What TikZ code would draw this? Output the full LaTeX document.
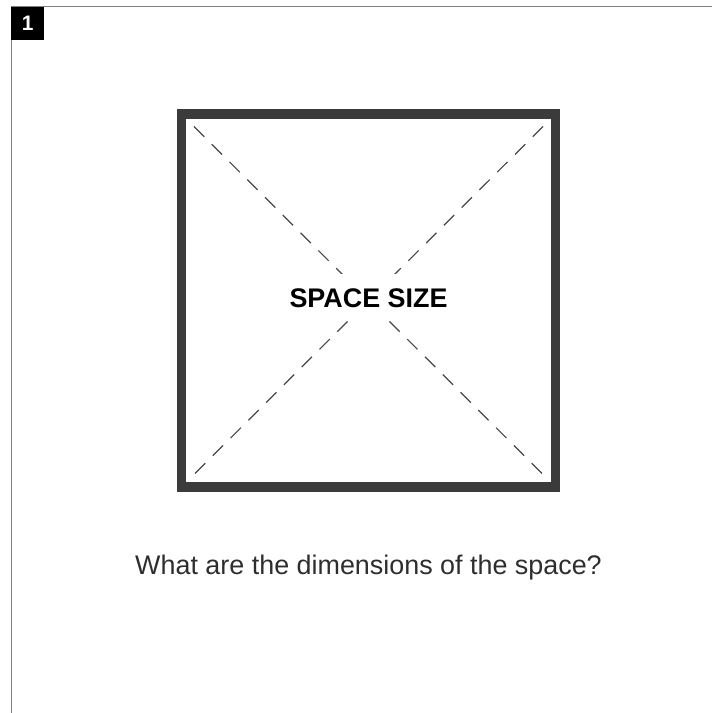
\documentclass[tikz,border=0pt]{standalone}
\usepackage{fontspec}
\setmainfont{Liberation Sans}
\usetikzlibrary{positioning}

\begin{document}
\begin{tikzpicture}[
    x=1bp, y=-1bp,
    frame/.style={draw=black!50, line width=1.3bp},
    badge/.style={
        fill=black,
        text=white,
        minimum size=33bp,
        inner sep=0pt,
        font=\bfseries\fontsize{21}{21}\selectfont
    },
    room/.style={
        draw=black!77,
        line width=9.5bp,
        minimum width=374bp,
        minimum height=373bp,
        inner sep=0pt,
        outer sep=0pt
    },
    diag/.style={draw=black!72, line width=1.2bp, dash pattern=on 14.5bp off 10.6bp},
    title/.style={fill=white, inner xsep=4bp, inner ysep=14bp, font=\bfseries\fontsize{27}{27}\selectfont},
    question/.style={text=black!82, font=\fontsize{27}{27}\selectfont}
]

\useasboundingbox (0,0) rectangle (712,713);

% Page frame and number
\draw[frame] (11.5,713) -- (11.5,6.5) -- (712,6.5);
\node[badge, anchor=north west] (num) at (11,7) {1};

% The space
\node[room] (room) at (368.5,300.5) {};
\coordinate[below right=12.5bp and 12.5bp of room.north west] (tl);
\coordinate[below left=12.5bp and 12.5bp of room.north east] (tr);
\coordinate[above right=12.5bp and 12.5bp of room.south west] (bl);
\coordinate[above left=12.5bp and 12.5bp of room.south east] (br);

% Diagonals
\draw[diag] (tl) -- (br);
\draw[diag] (tr) -- (bl);

% Labels
\node[title, anchor=base] (size) at (368.5,307) {SPACE SIZE};
\node[question, anchor=base] (ask) at (368.5,574) {What are the dimensions of the space?};

\end{tikzpicture}
\end{document}
